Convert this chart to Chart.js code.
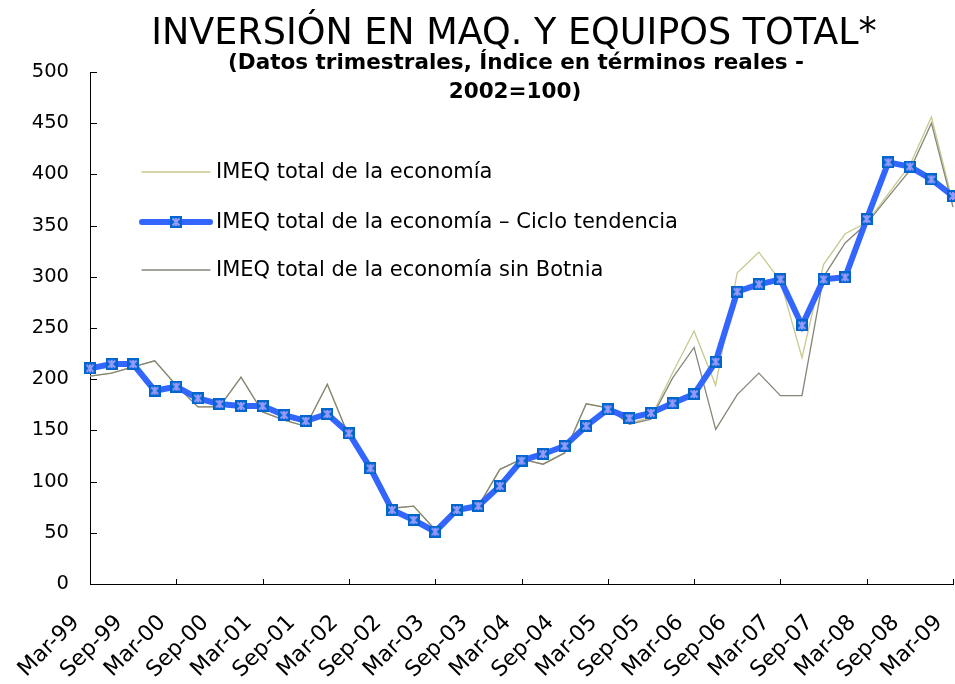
<!DOCTYPE html>
<html>
<head>
<meta charset="utf-8">
<script src="https://cdn.jsdelivr.net/npm/chart.js@4"></script>
<style>
  html, body { margin: 0; padding: 0; background: #fff; }
</style>
</head>
<body>
<canvas id="chart" width="955" height="684"></canvas>
<script>
'use strict';

// quarterly categories, Mar-99 .. Mar-09
const quarters = [
  'Mar-99', 'Jun-99', 'Sep-99', 'Dec-99',
  'Mar-00', 'Jun-00', 'Sep-00', 'Dec-00',
  'Mar-01', 'Jun-01', 'Sep-01', 'Dec-01',
  'Mar-02', 'Jun-02', 'Sep-02', 'Dec-02',
  'Mar-03', 'Jun-03', 'Sep-03', 'Dec-03',
  'Mar-04', 'Jun-04', 'Sep-04', 'Dec-04',
  'Mar-05', 'Jun-05', 'Sep-05', 'Dec-05',
  'Mar-06', 'Jun-06', 'Sep-06', 'Dec-06',
  'Mar-07', 'Jun-07', 'Sep-07', 'Dec-07',
  'Mar-08', 'Jun-08', 'Sep-08', 'Dec-08',
  'Mar-09'
];

const imeqTotal = [
  203, 206, 212, 218, 194, 173, 173, 202, 168, 160,
  154, 195, 144, 114, 74, 76, 53, 72, 76, 112,
  122, 117, 128, 176, 172, 157, 163, 206, 247, 194,
  304, 324, 296, 221, 312, 342, 353, 381, 409, 456,
  372
];

const imeqTrend = [
  210.6, 214.8, 214.8, 188.8, 192.7, 181.3, 175.8, 173.8, 173.8, 165,
  159.2, 166, 147.2, 113, 72.3, 62.5, 51.1, 72.3, 76.2, 95.7,
  120.4, 127, 134.8, 154.3, 170.6, 162, 167, 176.5, 185.5, 217.1,
  285.5, 292.7, 297.5, 252.5, 297.5, 299.5, 356.4, 411.8, 407.6, 395.2,
  378.9
];

const imeqSinBotnia = [
  203, 206, 212, 218, 194, 173, 173, 202, 168, 160,
  154, 195, 144, 114, 74, 76, 53, 72, 76, 112,
  122, 117, 128, 176, 172, 156, 161, 201, 231, 151,
  185, 206, 184, 184, 300, 333, 352, 378, 404, 450,
  368
];

const seriesNames = [
  'IMEQ total de la economía',
  'IMEQ total de la economía – Ciclo tendencia',
  'IMEQ total de la economía sin Botnia'
];

const titleText = 'INVERSIÓN EN MAQ. Y EQUIPOS TOTAL*';
const subtitleLines = ['(Datos trimestrales, Índice en términos reales -', '2002=100)'];

const FONT = 'DejaVu Sans';

// square marker with a light x through it
function makeMarker() {
  let c = document.createElement('canvas');
  c.width = 12;
  c.height = 12;
  let g = c.getContext('2d');
  g.fillStyle = '#0066cc';
  g.fillRect(0, 0, 12, 12);
  g.strokeStyle = '#9999ff';
  g.lineWidth = 2;
  g.beginPath();
  g.moveTo(2.5, 2.5); g.lineTo(9.5, 9.5);
  g.moveTo(9.5, 2.5); g.lineTo(2.5, 9.5);
  g.moveTo(6, 2); g.lineTo(6, 10);
  g.stroke();
  return c;
}
const marker = makeMarker();

// titles are drawn over the top of the plot like in the original
const titlePlugin = {
  id: 'titles',
  afterDraw(chart) {
    let ctx = chart.ctx;
    ctx.save();
    ctx.fillStyle = '#000';
    ctx.textAlign = 'center';
    ctx.textBaseline = 'alphabetic';
    ctx.font = '36.5px "' + FONT + '"';
    ctx.fillText(titleText, 514, 44);
    ctx.font = 'bold 21.5px "' + FONT + '"';
    ctx.fillText(subtitleLines[0], 516, 69);
    ctx.fillText(subtitleLines[1], 515, 98);
    ctx.restore();
  }
};

// small tick marks pointing into the plot
const tickPlugin = {
  id: 'innerTicks',
  beforeDatasetsDraw(chart) {
    let ctx = chart.ctx;
    let area = chart.chartArea;
    let xs = chart.scales.x;
    let ys = chart.scales.y;
    ctx.save();
    ctx.strokeStyle = '#000';
    ctx.lineWidth = 1;
    ctx.beginPath();
    for (let i = 0; i < ys.ticks.length; i++) {
      let y = Math.round(ys.getPixelForTick(i)) + 0.5;
      ctx.moveTo(area.left, y);
      ctx.lineTo(area.left + 7, y);
    }
    for (let i = 0; i < xs.ticks.length; i += 2) {
      let x = Math.round(xs.getPixelForTick(i)) + 0.5;
      ctx.moveTo(x, area.bottom);
      ctx.lineTo(x, area.bottom - 5);
    }
    ctx.stroke();
    ctx.restore();
  }
};

// legend sits inside the plot, upper left
const legendPlugin = {
  id: 'insideLegend',
  afterDatasetsDraw(chart) {
    let ctx = chart.ctx;
    let order = [2, 0, 1];
    let rowsY = [172, 222, 270];
    ctx.save();
    ctx.font = '21px "' + FONT + '"';
    ctx.textAlign = 'left';
    ctx.textBaseline = 'middle';
    for (let r = 0; r < order.length; r++) {
      let ds = chart.data.datasets[order[r]];
      let y = rowsY[r];
      ctx.strokeStyle = ds.borderColor;
      ctx.lineWidth = ds.borderWidth;
      ctx.lineCap = 'round';
      ctx.beginPath();
      ctx.moveTo(142, y);
      ctx.lineTo(210, y);
      ctx.stroke();
      if (ds.pointStyle instanceof HTMLCanvasElement) {
        ctx.drawImage(ds.pointStyle, 176 - 6, y - 6);
      }
      ctx.fillStyle = '#000';
      ctx.fillText(ds.label, 216, y + 1);
    }
    ctx.restore();
  }
};

let config = {
  type: 'line',
  data: {
    labels: quarters,
    datasets: [
      {
        label: seriesNames[1],
        data: imeqTrend,
        borderColor: '#3366ff',
        borderWidth: 6,
        pointStyle: marker,
        pointRadius: 6,
        tension: 0,
        clip: false,
        order: 0
      },
      {
        label: seriesNames[2],
        data: imeqSinBotnia,
        borderColor: '#858578',
        borderWidth: 1.3,
        pointRadius: 0,
        tension: 0,
        clip: false,
        order: 1
      },
      {
        label: seriesNames[0],
        data: imeqTotal,
        borderColor: '#c8c890',
        borderWidth: 1.3,
        pointRadius: 0,
        tension: 0,
        clip: false,
        order: 2
      }
    ]
  },
  options: {
    responsive: false,
    animation: false,
    layout: { autoPadding: false, padding: { top: 72, right: 2, left: 0, bottom: 0 } },
    plugins: {
      legend: { display: false },
      title: { display: false },
      tooltip: { enabled: false }
    },
    scales: {
      x: {
        offset: false,
        grid: { display: false, drawTicks: false },
        border: { display: true, color: '#000', width: 1 },
        ticks: {
          autoSkip: false,
          minRotation: 45,
          maxRotation: 45,
          padding: 26,
          labelOffset: -14,
          color: '#000',
          font: { family: FONT, size: 22 },
          callback: function (value, index) {
            return index % 2 === 0 ? this.getLabelForValue(value) : null;
          }
        },
        afterFit: function (scale) {
          scale.height = 100;
          scale.paddingRight = 0;
        }
      },
      y: {
        min: 0,
        max: 500,
        grid: { display: false, drawTicks: false },
        border: { display: true, color: '#000', width: 1 },
        ticks: {
          stepSize: 50,
          padding: 21,
          color: '#000',
          font: { family: FONT, size: 19.5 }
        },
        afterFit: function (scale) {
          scale.width = 90;
        }
      }
    }
  },
  plugins: [tickPlugin, legendPlugin, titlePlugin]
};

new Chart(document.getElementById('chart'), config);
</script>
</body>
</html>
